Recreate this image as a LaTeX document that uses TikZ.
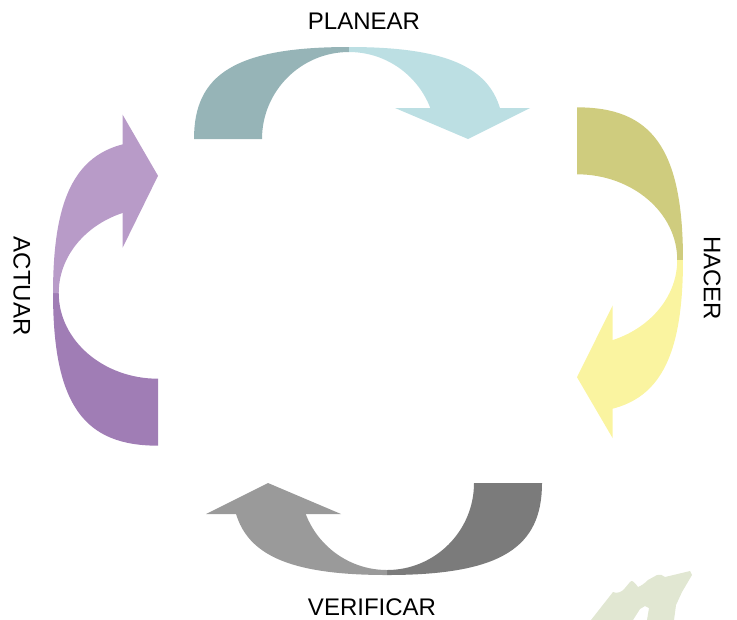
\documentclass[tikz,border=0pt]{standalone}
\usepackage{fontspec}
\setmainfont{Liberation Sans}
\definecolor{topdark}{RGB}{150,180,183}
\definecolor{toplight}{RGB}{188,223,227}
\definecolor{rightdark}{RGB}{207,204,126}
\definecolor{rightlight}{RGB}{250,244,160}
\definecolor{botdark}{RGB}{123,123,123}
\definecolor{botlight}{RGB}{154,154,154}
\definecolor{leftdark}{RGB}{160,125,181}
\definecolor{leftlight}{RGB}{184,155,200}
\definecolor{blobgreen}{RGB}{225,231,210}
\newcommand{\pdcaarrow}[2]{%
  \fill[#1] (-155,0) .. controls (-155,64) and (-115,92) .. (0,92)
    -- (0,87) .. controls (-48,87) and (-87,48) .. (-87,0) -- cycle;
  \begin{scope}
    \clip (-0.5,30.5) rectangle (200,100);
    \fill[#2] (155,0) .. controls (155,64) and (115,92) .. (0,92)
      -- (0,87) .. controls (48,87) and (87,48) .. (87,0) -- cycle;
  \end{scope}
  \fill[#2] (46,31) -- (181,31) -- (119,0) -- cycle;
}
\tikzset{lbl/.style={font=\fontsize{18}{20}\selectfont, inner sep=0pt, text=black}}
\begin{document}
\begin{tikzpicture}[x=0.75pt,y=0.75pt]
\useasboundingbox (0,0) rectangle (737,-619);
% PLANEAR arrow (top)
\begin{scope}[shift={(349,-139)}]
  \pdcaarrow{topdark}{toplight}
\end{scope}
% HACER arrow (right)
\begin{scope}[shift={(577,-260)}, rotate=-90, xscale=0.985, yscale=1.152]
  \pdcaarrow{rightdark}{rightlight}
\end{scope}
% VERIFICAR arrow (bottom)
\begin{scope}[shift={(387,-483)}, rotate=180]
  \pdcaarrow{botdark}{botlight}
\end{scope}
% ACTUAR arrow (left)
\begin{scope}[shift={(158,-293)}, rotate=90, xscale=0.985, yscale=1.141]
  \pdcaarrow{leftdark}{leftlight}
\end{scope}
% labels
\node[lbl] (planear) at (364,-21) {PLANEAR};
\node[lbl] (verificar) at (372,-607) {VERIFICAR};
\node[lbl, rotate=-90] (hacer) at (712,-278) {HACER};
\node[lbl, rotate=-90] (actuar) at (22,-286) {ACTUAR};
% decorative blob bottom right
\fill[blobgreen] (591,-620) -- (613,-592)
  .. controls (617,-594) and (622,-592) .. (625,-588) -- (630,-582)
  .. controls (632,-579) and (635,-583) .. (638,-587)
  .. controls (641,-586) and (645,-583) .. (648,-580) -- (657,-575)
  .. controls (660,-574) and (663,-575) .. (665,-577) -- (690,-571)
  -- (692,-575) -- (682,-592) -- (676,-605) -- (674,-620)
  -- (647,-620) -- (649,-608) -- (645,-606) -- (640,-609) -- (633,-620) -- cycle;
\end{tikzpicture}
\end{document}
